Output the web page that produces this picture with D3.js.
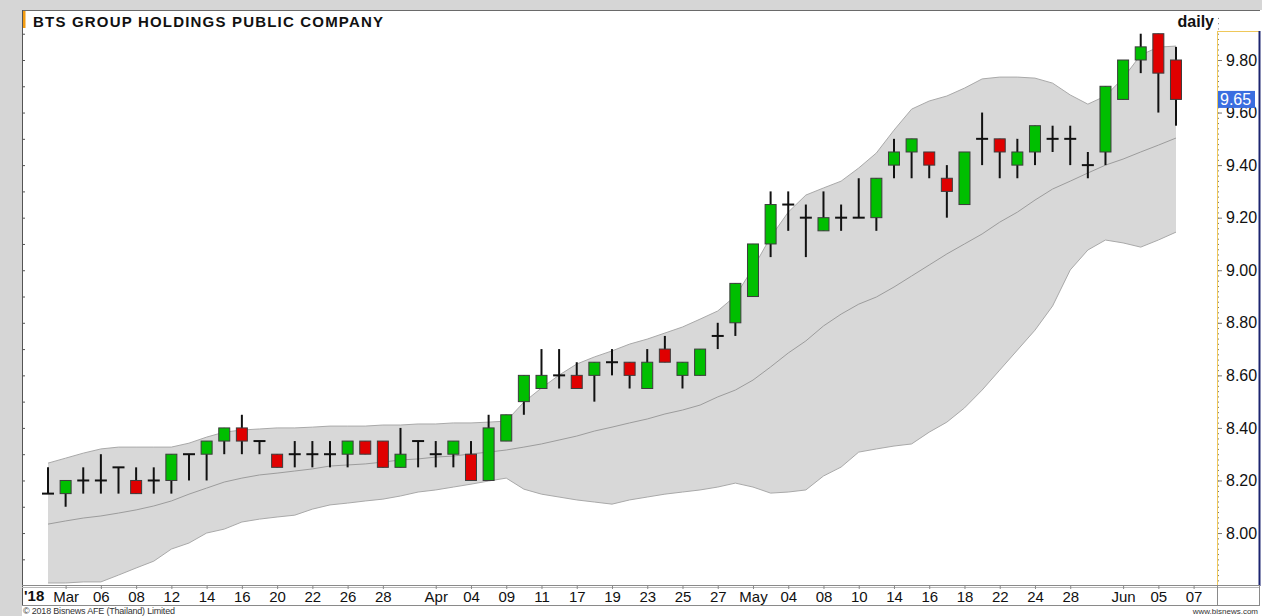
<!DOCTYPE html>
<html>
<head>
<meta charset="utf-8">
<script src="https://cdn.jsdelivr.net/npm/d3@7"></script>
<style>
  body { margin: 0; background: #fff; }
  svg { display: block; font-family: "Liberation Sans", Arial, sans-serif; }
</style>
</head>
<body>
<svg id="chart"></svg>
<script>
// BTS daily candles with Bollinger band, Feb 28 - Jun 7 2018

// trading days on the x axis (last slot has no candle yet)
const dates = [
  "02-28",
  "03-02","03-05","03-06","03-07","03-08","03-09","03-12","03-13","03-14","03-15","03-16",
  "03-19","03-20","03-21","03-22","03-23","03-26","03-27","03-28","03-29","03-30",
  "04-02","04-03","04-04","04-05","04-09","04-10","04-11","04-12","04-17","04-18","04-19",
  "04-20","04-23","04-24","04-25","04-26","04-27","04-30",
  "05-02","05-03","05-04","05-07","05-08","05-09","05-10","05-11","05-14","05-15","05-16",
  "05-17","05-18","05-21","05-22","05-23","05-24","05-25","05-28","05-30","05-31",
  "06-01","06-04","06-05","06-06","06-07"
];

const tickDates = ["03-02","03-06","03-08","03-12","03-14","03-16","03-20","03-22","03-26","03-28",
  "04-02","04-04","04-09","04-11","04-17","04-19","04-23","04-25","04-27",
  "05-02","05-04","05-08","05-10","05-14","05-16","05-18","05-22","05-24","05-28",
  "06-01","06-05","06-07"];
const tickTexts = ["Mar","06","08","12","14","16","20","22","26","28",
  "Apr","04","09","11","17","19","23","25","27",
  "May","04","08","10","14","16","18","22","24","28",
  "Jun","05","07"];

const open  = [8.15,8.15,8.20,8.20,8.25,8.20,8.20,8.20,8.30,8.30,8.35,8.40,8.35,8.30,8.30,8.30,8.30,8.30,8.35,8.35,
               8.25,8.35,8.30,8.30,8.30,8.20,8.35,8.50,8.55,8.60,8.60,8.60,8.65,8.65,8.55,8.70,8.60,8.60,8.75,8.80,
               8.90,9.10,9.25,9.20,9.15,9.20,9.20,9.20,9.40,9.45,9.45,9.35,9.25,9.50,9.50,9.40,9.45,9.50,9.50,9.40,
               9.45,9.65,9.80,9.90,9.80];
const high  = [8.25,8.20,8.25,8.30,8.25,8.25,8.25,8.30,8.30,8.35,8.40,8.45,8.35,8.30,8.35,8.35,8.35,8.35,8.35,8.35,
               8.40,8.35,8.35,8.35,8.35,8.45,8.45,8.60,8.70,8.70,8.65,8.65,8.70,8.65,8.70,8.75,8.65,8.70,8.80,8.95,
               9.10,9.30,9.30,9.25,9.30,9.25,9.35,9.35,9.50,9.50,9.45,9.40,9.45,9.60,9.50,9.50,9.55,9.55,9.55,9.45,
               9.70,9.80,9.90,9.90,9.85];
const low   = [8.15,8.10,8.15,8.15,8.15,8.15,8.15,8.15,8.20,8.20,8.30,8.30,8.30,8.25,8.25,8.25,8.25,8.25,8.30,8.25,
               8.25,8.25,8.25,8.25,8.20,8.20,8.35,8.45,8.55,8.55,8.55,8.50,8.60,8.55,8.55,8.65,8.55,8.60,8.70,8.75,
               8.90,9.05,9.15,9.05,9.15,9.15,9.20,9.15,9.35,9.35,9.35,9.20,9.25,9.40,9.35,9.35,9.40,9.45,9.40,9.35,
               9.40,9.65,9.75,9.60,9.55];
const close = [8.15,8.20,8.20,8.20,8.25,8.15,8.20,8.30,8.30,8.35,8.40,8.35,8.35,8.25,8.30,8.30,8.30,8.35,8.30,8.25,
               8.30,8.35,8.30,8.35,8.20,8.40,8.45,8.60,8.60,8.60,8.55,8.65,8.65,8.60,8.65,8.65,8.65,8.70,8.75,8.95,
               9.10,9.25,9.25,9.20,9.20,9.20,9.20,9.35,9.45,9.50,9.40,9.30,9.45,9.50,9.45,9.45,9.55,9.50,9.50,9.40,
               9.70,9.80,9.85,9.75,9.65];

// Bollinger band
const bbUpper = [8.266,8.285,8.304,8.320,8.327,8.327,8.327,8.327,8.342,8.365,8.384,8.392,8.396,8.400,8.400,8.403,
                 8.407,8.407,8.407,8.411,8.411,8.415,8.415,8.419,8.419,8.422,8.426,8.498,8.552,8.601,8.643,8.670,
                 8.693,8.719,8.738,8.761,8.784,8.814,8.845,8.902,9.008,9.126,9.221,9.286,9.313,9.339,9.389,9.446,
                 9.533,9.613,9.644,9.663,9.693,9.728,9.735,9.735,9.731,9.712,9.667,9.632,9.663,9.731,9.819,9.849,9.853];
const bbMid   = [8.034,8.046,8.057,8.065,8.076,8.088,8.103,8.122,8.148,8.171,8.194,8.209,8.221,8.228,8.236,8.244,
                 8.255,8.259,8.263,8.270,8.278,8.282,8.289,8.293,8.301,8.308,8.316,8.327,8.339,8.354,8.369,8.388,
                 8.403,8.419,8.434,8.453,8.468,8.487,8.518,8.544,8.582,8.632,8.685,8.731,8.788,8.833,8.871,8.898,
                 8.936,8.978,9.020,9.062,9.100,9.138,9.183,9.221,9.267,9.309,9.339,9.370,9.400,9.423,9.450,9.476,9.503];
const bbLower = [7.810,7.810,7.814,7.814,7.840,7.867,7.893,7.939,7.962,8.000,8.015,8.042,8.053,8.061,8.068,8.091,
                 8.107,8.114,8.122,8.129,8.141,8.156,8.164,8.175,8.186,8.198,8.209,8.167,8.148,8.137,8.126,8.118,
                 8.110,8.126,8.137,8.148,8.156,8.164,8.175,8.190,8.175,8.152,8.156,8.164,8.217,8.251,8.308,8.320,
                 8.331,8.339,8.384,8.422,8.476,8.544,8.620,8.696,8.772,8.864,9.001,9.077,9.115,9.104,9.088,9.115,9.145];

const priceTicks = [8.0, 8.2, 8.4, 8.6, 8.8, 9.0, 9.2, 9.4, 9.6, 9.8];

const width = 1262;
const height = 616;
const plotLeft = 22, plotRight = 1217, plotTop = 10, plotBottom = 586;

const svg = d3.select("#chart")
    .attr("width", width)
    .attr("height", height);

// page background strips
svg.append("rect").attr("width", width).attr("height", height).attr("fill", "#fff");
svg.append("rect").attr("x", 0).attr("y", 0).attr("width", width).attr("height", plotTop).attr("fill", "#d6d6d6");
svg.append("rect").attr("x", 0).attr("y", 0).attr("width", plotLeft).attr("height", height).attr("fill", "#d6d6d6");

const x = d3.scalePoint()
    .domain(dates)
    .range([48, 1193.6]);

const y = d3.scaleLinear()
    .domain([7.8, 9.8])
    .range([585.6, 60]);

const candles = close.map((c, i) => ({
    date: dates[i], o: open[i], h: high[i], l: low[i], c: c
}));

// bollinger band
const band = d3.area()
    .x((d, i) => x(dates[i]))
    .y0((d, i) => y(bbLower[i]))
    .y1(d => y(d));

svg.append("path")
    .datum(bbUpper)
    .attr("d", band)
    .attr("fill", "#d8d8d8");

const bandLine = d3.line()
    .x((d, i) => x(dates[i]))
    .y(d => y(d));

[bbUpper, bbLower].forEach(s => {
    svg.append("path")
        .datum(s)
        .attr("d", bandLine)
        .attr("fill", "none")
        .attr("stroke", "#a9a9a9")
        .attr("stroke-width", 1);
});
svg.append("path")
    .datum(bbMid)
    .attr("d", bandLine)
    .attr("fill", "none")
    .attr("stroke", "#9c9c9c")
    .attr("stroke-width", 1);

// candles
const bodyW = 12;
const candle = svg.append("g").selectAll("g")
    .data(candles)
    .enter().append("g");

candle.append("line")
    .attr("x1", d => x(d.date))
    .attr("x2", d => x(d.date))
    .attr("y1", d => y(d.h))
    .attr("y2", d => y(d.l))
    .attr("stroke", "#111")
    .attr("stroke-width", 2);

candle.filter(d => d.o === d.c).append("line")
    .attr("x1", d => x(d.date) - bodyW / 2)
    .attr("x2", d => x(d.date) + bodyW / 2)
    .attr("y1", d => y(d.c))
    .attr("y2", d => y(d.c))
    .attr("stroke", "#111")
    .attr("stroke-width", 2);

candle.filter(d => d.o !== d.c).append("rect")
    .attr("x", d => x(d.date) - bodyW / 2 + 0.5)
    .attr("width", bodyW - 1)
    .attr("y", d => y(Math.max(d.o, d.c)))
    .attr("height", d => Math.abs(y(d.o) - y(d.c)))
    .attr("fill", d => d.c > d.o ? "#00bf00" : "#e00000")
    .attr("stroke", "#3c3c3c")
    .attr("stroke-width", 1);

// frame
svg.append("line").attr("x1", plotLeft).attr("x2", 1260).attr("y1", plotTop + 0.5).attr("y2", plotTop + 0.5)
    .attr("stroke", "#6a6a6a");
svg.append("line").attr("x1", plotLeft + 0.5).attr("x2", plotLeft + 0.5).attr("y1", plotTop).attr("y2", 605)
    .attr("stroke", "#555");
svg.append("rect").attr("x", plotLeft + 1).attr("y", 11).attr("width", 2.5).attr("height", 17).attr("fill", "#f39c12");

// left edge ticks
svg.append("g")
    .attr("transform", `translate(${plotLeft},0)`)
    .call(d3.axisRight(y).tickValues(d3.range(7.9, 9.95, 0.1)).tickSize(3).tickFormat(""))
    .call(g => g.select(".domain").remove())
    .call(g => g.selectAll(".tick line").attr("stroke", "#555"));

// right price axis box
svg.append("line").attr("x1", plotRight + 0.5).attr("x2", plotRight + 0.5).attr("y1", 31).attr("y2", plotBottom)
    .attr("stroke", "#efc85a");
svg.append("line").attr("x1", plotRight).attr("x2", 1259).attr("y1", 31.5).attr("y2", 31.5)
    .attr("stroke", "#efc85a");
svg.append("line").attr("x1", 1259.5).attr("x2", 1259.5).attr("y1", 31).attr("y2", plotBottom)
    .attr("stroke", "#1c2470").attr("stroke-width", 2);

svg.append("g")
    .attr("transform", `translate(${plotRight + 1},0)`)
    .call(d3.axisRight(y).tickValues(d3.range(7.82, 9.98, 0.02)).tickSize(2).tickFormat(""))
    .call(g => g.select(".domain").remove())
    .call(g => g.selectAll(".tick line").attr("stroke", "#777").attr("stroke-dasharray", "1,1"));

svg.append("g")
    .attr("transform", `translate(${plotRight + 1},0)`)
    .call(d3.axisRight(y).tickValues(priceTicks).tickSize(4).tickPadding(4).tickFormat(d3.format(".2f")))
    .call(g => g.select(".domain").remove())
    .call(g => g.selectAll(".tick line").attr("stroke", "#777"))
    .call(g => g.selectAll(".tick text")
        .attr("font-size", "16px")
        .attr("font-family", "'Liberation Sans', Arial, sans-serif")
        .attr("fill", "#111"));

// last price marker
const last = close[close.length - 1];
svg.append("rect")
    .attr("x", plotRight + 1)
    .attr("y", y(last) - 8.5)
    .attr("width", 37)
    .attr("height", 17)
    .attr("fill", "#3a6ee0");
svg.append("text")
    .attr("x", plotRight + 3)
    .attr("y", y(last) + 6)
    .attr("font-size", "16px")
    .attr("fill", "#fff")
    .text(d3.format(".2f")(last));

// date axis band
svg.append("line").attr("x1", plotLeft).attr("x2", 1260).attr("y1", plotBottom - 0.5).attr("y2", plotBottom - 0.5)
    .attr("stroke", "#8a8a8a");
svg.append("line").attr("x1", plotLeft).attr("x2", 1260).attr("y1", plotBottom + 1.5).attr("y2", plotBottom + 1.5)
    .attr("stroke", "#b8b8b8");
svg.append("line").attr("x1", plotLeft).attr("x2", 1260).attr("y1", 605.5).attr("y2", 605.5)
    .attr("stroke", "#8a8a8a");
svg.append("line").attr("x1", plotRight + 0.5).attr("x2", plotRight + 0.5).attr("y1", plotBottom).attr("y2", 605)
    .attr("stroke", "#8a8a8a");
svg.append("line").attr("x1", 1259.5).attr("x2", 1259.5).attr("y1", plotBottom).attr("y2", 605)
    .attr("stroke", "#8a8a8a");

svg.append("g")
    .attr("transform", `translate(0,${plotBottom})`)
    .call(d3.axisBottom(x).tickValues(tickDates).tickSize(3).tickPadding(2)
        .tickFormat((d, i) => tickTexts[i]))
    .call(g => g.select(".domain").remove())
    .call(g => g.selectAll(".tick line").attr("stroke", "#888"))
    .call(g => g.selectAll(".tick text")
        .attr("font-size", "15px")
        .attr("font-family", "'Liberation Sans', Arial, sans-serif")
        .attr("fill", "#111"));

svg.append("text")
    .attr("x", 24)
    .attr("y", 601)
    .attr("font-size", "15px")
    .attr("font-weight", "bold")
    .attr("fill", "#111")
    .text("'18");

// titles
svg.append("text")
    .attr("x", 33)
    .attr("y", 27)
    .attr("font-size", "15px")
    .attr("font-weight", "bold")
    .attr("fill", "#111")
    .attr("textLength", 350)
    .attr("lengthAdjust", "spacing")
    .text("BTS GROUP HOLDINGS PUBLIC COMPANY");

svg.append("text")
    .attr("x", 1214)
    .attr("y", 27)
    .attr("text-anchor", "end")
    .attr("font-size", "16px")
    .attr("font-weight", "bold")
    .attr("fill", "#111")
    .text("daily");

// footer
svg.append("text")
    .attr("x", 23)
    .attr("y", 614)
    .attr("font-size", "9px")
    .attr("fill", "#333")
    .attr("textLength", 152)
    .text("© 2018 Bisnews AFE (Thailand) Limited");

svg.append("text")
    .attr("x", 1258)
    .attr("y", 614)
    .attr("text-anchor", "end")
    .attr("font-size", "8px")
    .attr("fill", "#333")
    .text("www.bisnews.com");
</script>
</body>
</html>
